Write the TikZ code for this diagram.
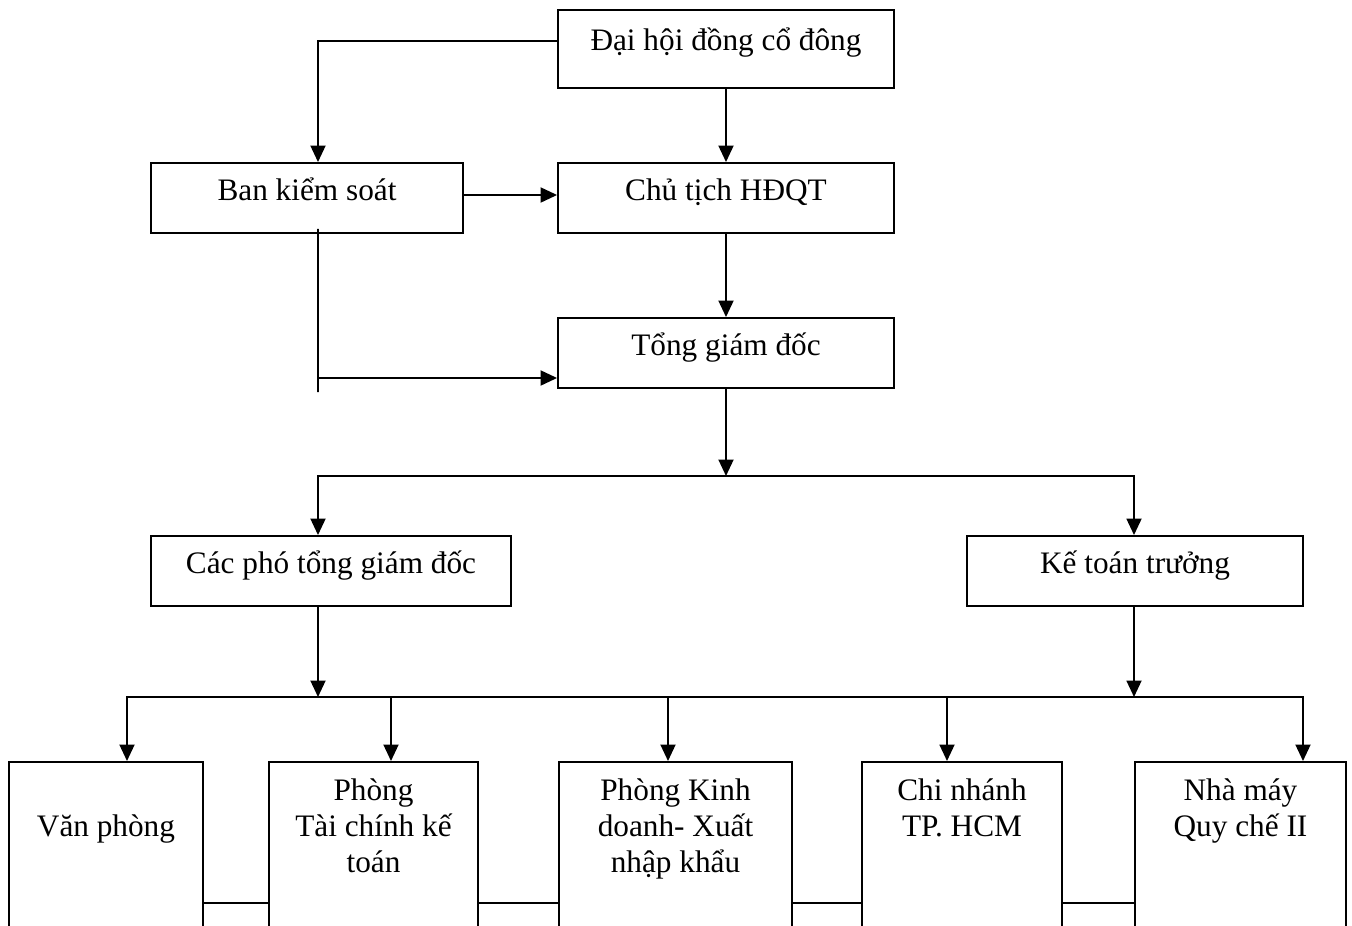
\documentclass[tikz,border=0pt]{standalone}
\usepackage{fontspec}
\setmainfont{Liberation Serif}
\usetikzlibrary{arrows.meta}

\tikzset{
	box/.style={draw, inner xsep=0pt, inner ysep=0pt, minimum height=1.4cm, text height=21pt, text depth=18.7pt},
	unit/.style={draw, anchor=north, inner sep=0pt, text height=22pt, text depth=96.5pt},
	link/.style={-{Triangle[length=0.33cm,width=0.3cm]}}
}
\newcommand{\unittext}[1]{\parbox[t]{3.8cm}{\centering #1}}

\begin{document}
\begin{tikzpicture}[x=0.02cm, y=-0.02cm, line width=1.1pt, font=\fontsize{17.8pt}{20.4pt}\selectfont]
	\path[use as bounding box, clip] (0,0) rectangle (1352,926);
	% upper levels
	\node[box, minimum width=6.72cm, text height=22.7pt, text depth=21.5pt] (dhcd) at (726,49) {Đại hội đồng cổ đông};
	\node[box, minimum width=6.24cm] (bks) at (307,198) {Ban kiểm soát};
	\node[box, minimum width=6.72cm] (ct) at (726,198) {Chủ tịch HĐQT};
	\node[box, minimum width=6.72cm] (tgd) at (726,353) {Tổng giám đốc};
	\node[box, minimum width=7.2cm] (cpt) at (331,571) {Các phó tổng giám đốc};
	\node[box, minimum width=6.72cm] (ktt) at (1135,571) {Kế toán trưởng};
	% departments
	\node[unit, minimum width=3.88cm, text height=42.4pt, text depth=76.1pt] (vp) at (106,761) {\unittext{Văn phòng}};
	\node[unit, minimum width=4.18cm] (tc) at (373.5,761) {\unittext{Phòng\\Tài chính kế\\toán}};
	\node[unit, minimum width=4.66cm] (kd) at (675.5,761) {\unittext{Phòng Kinh\\doanh- Xuất\\nhập khẩu}};
	\node[unit, minimum width=4cm] (cn) at (962,761) {\unittext{Chi nhánh\\TP. HCM}};
	\node[unit, minimum width=4.22cm] (nm) at (1240.5,761) {\unittext{Nhà máy\\Quy chế II}};

	\coordinate (sv) at (318,378);
	\coordinate (j1) at (726,476);
	\coordinate (j2) at (318,697);
	\coordinate (j3) at (1134,697);
	\coordinate (hl) at (0,903);

	\draw[link] ([yshift=0.16cm]dhcd.west) -| ([xshift=0.22cm]bks.north);
	\draw[link] (dhcd) -- (ct);
	\draw[link] ([yshift=0.06cm]bks.east) -- ([yshift=0.06cm]ct.west);
	\draw[link] (ct) -- (tgd);
	\draw ([xshift=0.22cm, yshift=0.1cm]bks.south) -- ([yshift=-0.28cm]sv);
	\draw[link] (sv) -- (sv -| tgd.west);
	\draw[link] (tgd) -- (j1);
	\draw[link] (j1) -| (j2 |- cpt.north);
	\draw[link] (j1) -| (j3 |- ktt.north);
	\draw[link] (j2 |- cpt.south) -- (j2);
	\draw[link] (j3 |- ktt.south) -- (j3);
	\draw (j2) -- (j3);
	\draw[link] (j2) -| ([xshift=0.42cm]vp.north);
	\draw[link] (j2) -| ([xshift=0.35cm]tc.north);
	\draw[link] (j2) -| ([xshift=-0.15cm]kd.north);
	\draw[link] (j3) -| ([xshift=-0.3cm]cn.north);
	\draw[link] (j3) -| ([xshift=1.25cm]nm.north);
	\foreach \a/\b in {vp/tc, tc/kd, kd/cn, cn/nm}
		\draw (\a.east |- hl) -- (\b.west |- hl);
\end{tikzpicture}
\end{document}
